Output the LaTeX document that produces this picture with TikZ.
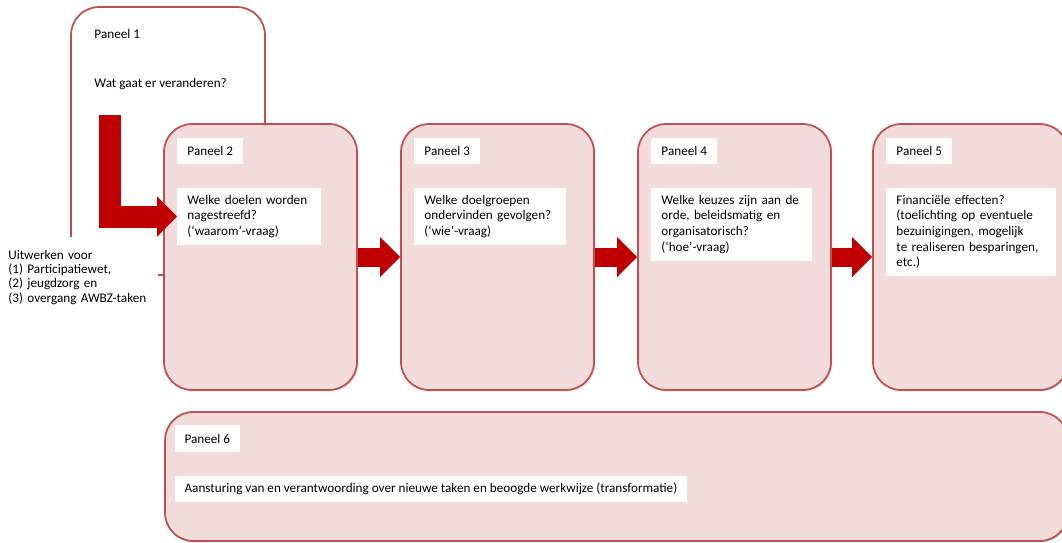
\documentclass[tikz,border=0pt]{standalone}
\usepackage{fontspec}
\setmainfont{Carlito}
\usetikzlibrary{positioning,arrows.meta,shadows}
\definecolor{panelpink}{RGB}{242,220,219}
\definecolor{paneledge}{RGB}{192,80,77}
\definecolor{arrowred}{RGB}{192,0,0}
\tikzset{
  panel/.style={draw=paneledge, line width=1pt, fill=panelpink, rounded corners=0.56cm,
    minimum width=3.86cm, minimum height=5.32cm,
    drop shadow={opacity=0.25, shadow xshift=0.8pt, shadow yshift=-0.8pt}},
  hdr/.style={fill=white, inner xsep=0.2cm, minimum height=0.54cm},
  body/.style={fill=white, inner xsep=0.2cm, inner ysep=0.14cm, align=left},
  blockarrow/.style={draw=arrowred, line width=0.38cm,
    -{Triangle[length=0.4cm,width=0.78cm]}}
}
\begin{document}
\begin{tikzpicture}[x=0.02cm,y=-0.02cm,font=\fontsize{7.5}{8.9}\selectfont]
\useasboundingbox (0,0) rectangle (1062,542);
% panel 1 (white) and the note beside it
\node[panel, fill=white, minimum width=3.88cm, minimum height=5.36cm] (p1) at (168,141) {};
\node[fill=white, anchor=north west, inner xsep=0.16cm, inner ysep=0.16cm, text width=2.84cm,
  minimum height=1.6cm, align=left, font=\fontsize{7.5}{8.2}\selectfont] (note) at (0,237)
  {Uitwerken voor\\(1) Participatiewet,\\(2) jeugdzorg en\\(3) overgang \mbox{AWBZ-taken}};
% panels 2-6
\node[panel] (p2) at (260.5,257) {};
\node[panel] (p3) at (497.5,257) {};
\node[panel] (p4) at (734.5,257) {};
\node[panel, minimum width=3.9cm] (p5) at (970.5,257) {};
\node[panel, minimum width=18.06cm, minimum height=2.58cm] (p6) at (616.5,476.5) {};
% headers
\node[hdr, below right=0.28cm and 0.28cm of p1.north west] (h1) {Paneel 1};
\node[hdr, below right=0.28cm and 0.28cm of p2.north west] (h2) {Paneel 2};
\node[hdr, below right=0.28cm and 0.28cm of p3.north west] (h3) {Paneel 3};
\node[hdr, below right=0.28cm and 0.28cm of p4.north west] (h4) {Paneel 4};
\node[hdr, below right=0.28cm and 0.28cm of p5.north west] (h5) {Paneel 5};
\node[hdr, below right=0.28cm and 0.2cm of p6.north west] (h6) {Paneel 6};
% questions
\node[body, below right=0.46cm and 0cm of h1.south west] (b1) {Wat gaat er veranderen?};
\node[body, text width=2.48cm, below right=0.46cm and 0cm of h2.south west] (b2)
  {Welke doelen worden\\nagestreefd?\\(‘waarom’-vraag)};
\node[body, text width=2.64cm, below right=0.46cm and 0cm of h3.south west] (b3)
  {Welke doelgroepen\\ondervinden gevolgen?\\(‘wie’-vraag)};
\node[body, text width=2.82cm, below right=0.46cm and 0cm of h4.south west] (b4)
  {Welke keuzes zijn aan de\\orde, beleidsmatig en\\organisatorisch?\\(‘hoe’-vraag)};
\node[body, text width=3cm, below right=0.46cm and 0cm of h5.south west] (b5)
  {Financiële effecten?\\(toelichting op eventuele\\bezuinigingen, mogelijk\\te realiseren besparingen,\\etc.)};
\node[body, below right=0.46cm and 0cm of h6.south west] (b6)
  {Aansturing van en verantwoording over nieuwe taken en beoogde werkwijze (transformatie)};
% arrows
\coordinate (ltop) at (110,115);
\draw[blockarrow, line width=0.44cm] (ltop) |- (b2.west);
\draw[blockarrow] (p2) -- (p3);
\draw[blockarrow] (p3) -- (p4);
\draw[blockarrow] (p4) -- (p5);
\end{tikzpicture}
\end{document}
